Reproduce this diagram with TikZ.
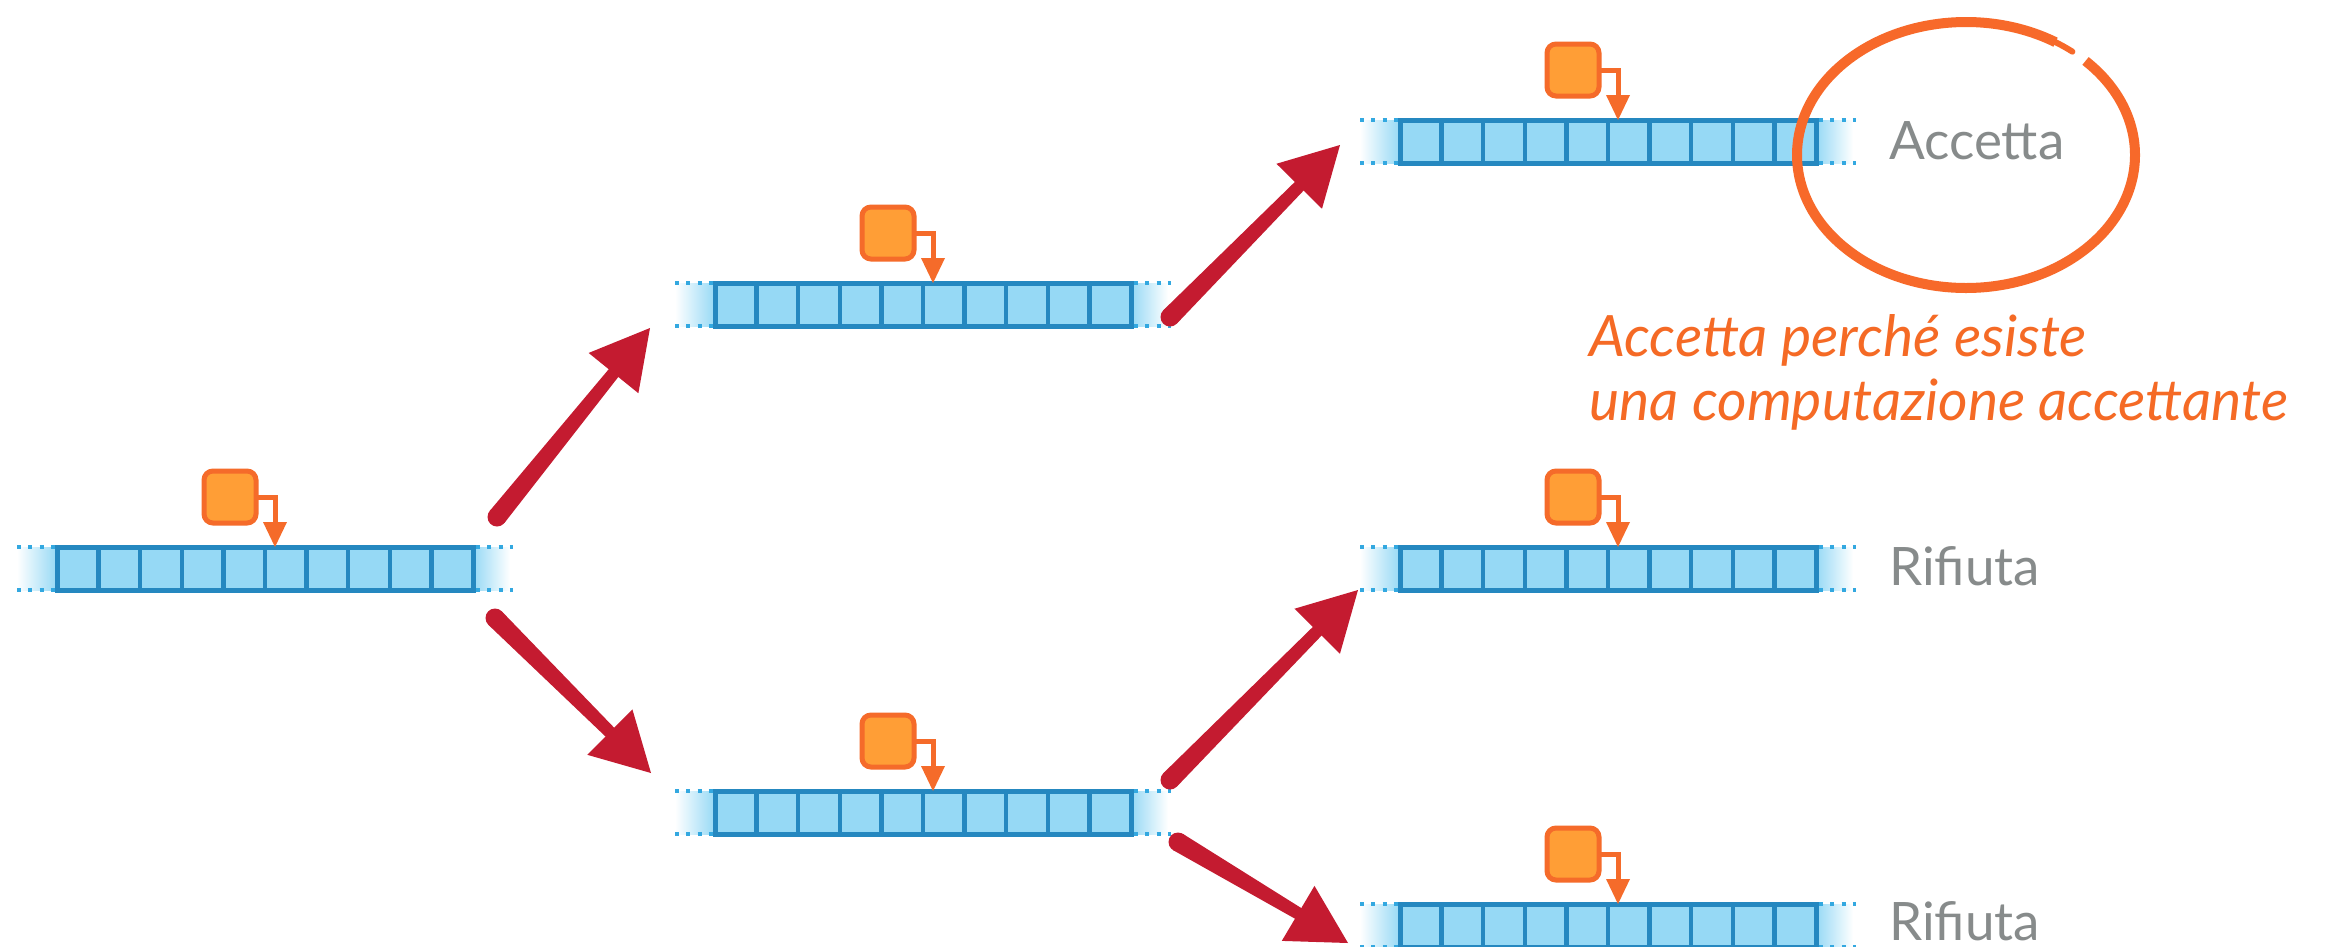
\documentclass[tikz,border=0pt]{standalone}
\usepackage{fontspec}
\setmainfont{Lato}
\usetikzlibrary{calc}

\definecolor{tapeedge}{HTML}{2588C0}
\definecolor{tapecell}{HTML}{96D9F5}
\definecolor{tapedot}{HTML}{33A8E0}
\definecolor{headfill}{HTML}{FF9E36}
\definecolor{headedge}{HTML}{F56B2A}
\definecolor{branchred}{HTML}{C41B30}
\definecolor{ringorange}{HTML}{F7692A}
\definecolor{notegray}{HTML}{878B8B}
\definecolor{noteorange}{HTML}{F56A25}

\tikzset{
  tapebox/.style={draw=tapeedge, fill=tapecell, line width=5pt, inner sep=0pt,
    outer sep=0pt, minimum width=416pt, minimum height=43pt, anchor=north west},
  celledge/.style={draw=tapeedge, line width=4.5pt},
  tapedots/.style={draw=tapedot, line width=4pt, dash pattern=on 4pt off 7.3pt},
  headbox/.style={draw=headedge, fill=headfill, line width=5pt, rounded corners=9pt,
    minimum size=52pt, inner sep=0pt, outer sep=0pt},
  headline/.style={draw=headedge, line width=5pt},
  verdict/.style={text=notegray, inner sep=0pt, anchor=base west,
    font=\fontsize{53pt}{60pt}\selectfont},
  remark/.style={text=noteorange, inner sep=0pt, anchor=base west,
    font=\fontsize{57pt}{62pt}\selectfont\itshape},
}

% a tape with its read head: name, left x, top y
\newcommand\drawtape[3]{%
  \begin{scope}[shift={(#2,#3)}]
    \shade[left color=white, right color=tapecell] (-40,0) rectangle (0,43);
    \shade[left color=tapecell, right color=white] (416,0) rectangle (453,43);
    \draw[tapedots] (-40,0) -- (0,0);
    \draw[tapedots] (-40,43) -- (0,43);
    \draw[tapedots] (419,0) -- (456,0);
    \draw[tapedots] (419,43) -- (456,43);
    \node[tapebox] (#1) at (0,0) {};
    \foreach \k in {1,...,9} \draw[celledge] (\k*41.6,0) -- (\k*41.6,43);
    \draw[tapeedge, line width=5pt] (0,0) rectangle (416,43);
    \node[headbox] (#1h) at (173,-50) {};
    \coordinate (#1r) at (218,-25);
    \draw[headline] (#1h.east) -| (#1r);
    \fill[headedge] ($(#1r)+(-12,0)$) -- ($(#1r)+(12,0)$) -- ($(#1r)+(0,25)$) -- cycle;
  \end{scope}%
}

% a brush-stroke branch arrow between two named points
\newcommand\brusharrow[2]{%
  \coordinate (hb) at ($(#2)!58pt!(#1)$);
  \coordinate (sb) at ($(#2)!50pt!(#1)$);
  \fill[branchred] ($(#1)!9.5pt!90:(#2)$) -- ($(sb)!6pt!-90:(#1)$)
     -- ($(sb)!6pt!90:(#1)$) -- ($(#1)!9.5pt!-90:(#2)$) -- cycle;
  \fill[branchred] (#1) circle[radius=9.5pt];
  \fill[branchred] ($(hb)!32pt!90:(#2)$) -- (#2) -- ($(hb)!32pt!-90:(#2)$) -- cycle;
}

\begin{document}
\begin{tikzpicture}[x=1pt, y=-1pt]
  \useasboundingbox[fill=white] (0,0) rectangle (2329,946);

  \drawtape{t1}{57}{547}
  \drawtape{t2}{715}{283}
  \drawtape{t3}{715}{791}
  \drawtape{t4}{1400}{120}
  \drawtape{t5}{1400}{547}
  \drawtape{t6}{1400}{904}

  % branch end points
  \coordinate (a1s) at (497,517);  \coordinate (a1e) at (650,328);
  \coordinate (a2s) at (495,618);  \coordinate (a2e) at (651,773);
  \coordinate (a3s) at (1170,317); \coordinate (a3e) at (1340,145);
  \coordinate (a4s) at (1170,780); \coordinate (a4e) at (1358,590);
  \coordinate (a5s) at (1178,842); \coordinate (a5e) at (1348,943);

  \brusharrow{a1s}{a1e}
  \brusharrow{a2s}{a2e}
  \brusharrow{a3s}{a3e}
  \brusharrow{a4s}{a4e}
  \brusharrow{a5s}{a5e}

  % outcomes
  \node[verdict] (acc) at (1889,159) {Accetta};
  \node[verdict] (rif1) at (1889,585) {Rifiuta};
  \node[verdict] (rif2) at (1889,940) {Rifiuta};

  % hand-drawn ring around the accepting outcome
  \coordinate (ringc) at (1966,155);
  \draw[ringorange, line width=10pt]
    ([shift={(-45:169 and 133)}]ringc) arc[start angle=-45, end angle=302, x radius=169, y radius=133];
  \draw[ringorange, line width=6pt, line cap=round]
    ([shift={(298:169 and 133)}]ringc) arc[start angle=298, end angle=309, x radius=169, y radius=133];

  \node[remark] (why1) at (1589,356) {Accetta perché esiste};
  \node[remark] (why2) at (1589,420) {una computazione accettante};
\end{tikzpicture}
\end{document}
